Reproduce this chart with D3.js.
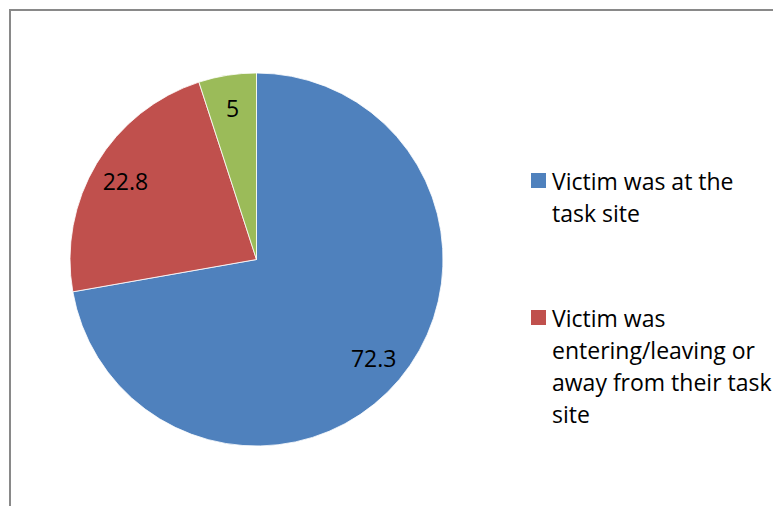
<!DOCTYPE html>
<html>
<head>
<meta charset="utf-8">
<script src="https://cdn.jsdelivr.net/npm/d3@7"></script>
<style>
  html, body { margin: 0; padding: 0; background: #fff; }
  svg { display: block; }
  text { font-family: "Open Sans", Lato, sans-serif; fill: #000; }
</style>
</head>
<body>
<svg id="chart" width="773" height="506"></svg>
<script>
// Share of incidents by where the victim was
const categories = [
  "Victim was at the task site",
  "Victim was entering/leaving or away from their task site",
  "Other"
];
const values = [72.3, 22.8, 5];
const colors = ["#4F81BD", "#C0504D", "#9BBB59"];
// Legend entries, wrapped into lines (only the first two are listed)
const legendLines = [
  ["Victim was at the", "task site"],
  ["Victim was", "entering/leaving or", "away from their task", "site"]
];

const W = 773, H = 506;
const svg = d3.select("#chart");

// Outer chart frame (runs off the right and bottom edges)
svg.append("rect")
  .attr("x", 10).attr("y", 10)
  .attr("width", W + 20).attr("height", H + 20)
  .attr("fill", "none")
  .attr("stroke", "#898989")
  .attr("stroke-width", 2);

const cx = 256.5, cy = 259.5, r = 186.5;
const data = values.map((v, i) => ({ name: categories[i], value: v, color: colors[i] }));

const pie = d3.pie().value(d => d.value).sort(null);
const arcs = pie(data);
const arc = d3.arc().innerRadius(0).outerRadius(r);
const labelArc = d3.arc().innerRadius(r * 0.82).outerRadius(r * 0.82);

const g = svg.append("g").attr("transform", `translate(${cx},${cy})`);

g.selectAll("path.slice")
  .data(arcs)
  .join("path")
  .attr("class", "slice")
  .attr("d", arc)
  .attr("fill", d => d.data.color)
  .attr("stroke", "#fff")
  .attr("stroke-width", 0.8);

g.selectAll("text.val")
  .data(arcs)
  .join("text")
  .attr("class", "val")
  .attr("transform", d => `translate(${labelArc.centroid(d)})`)
  .attr("text-anchor", "middle")
  .attr("dominant-baseline", "central")
  .attr("font-size", 23)
  .text(d => d3.format("")(d.data.value));

// Legend
const legendTop = [181, 318];
const lineH = 32;
legendLines.forEach((lines, i) => {
  const lg = svg.append("g");
  lg.append("rect")
    .attr("x", 531).attr("y", legendTop[i] - 8)
    .attr("width", 15).attr("height", 15)
    .attr("fill", colors[i]);
  const t = lg.append("text")
    .attr("x", 552).attr("y", legendTop[i])
    .attr("dominant-baseline", "central")
    .attr("font-size", 23);
  lines.forEach((ln, j) => {
    t.append("tspan").attr("x", 552).attr("y", legendTop[i] + j * lineH).text(ln);
  });
});
</script>
</body>
</html>
